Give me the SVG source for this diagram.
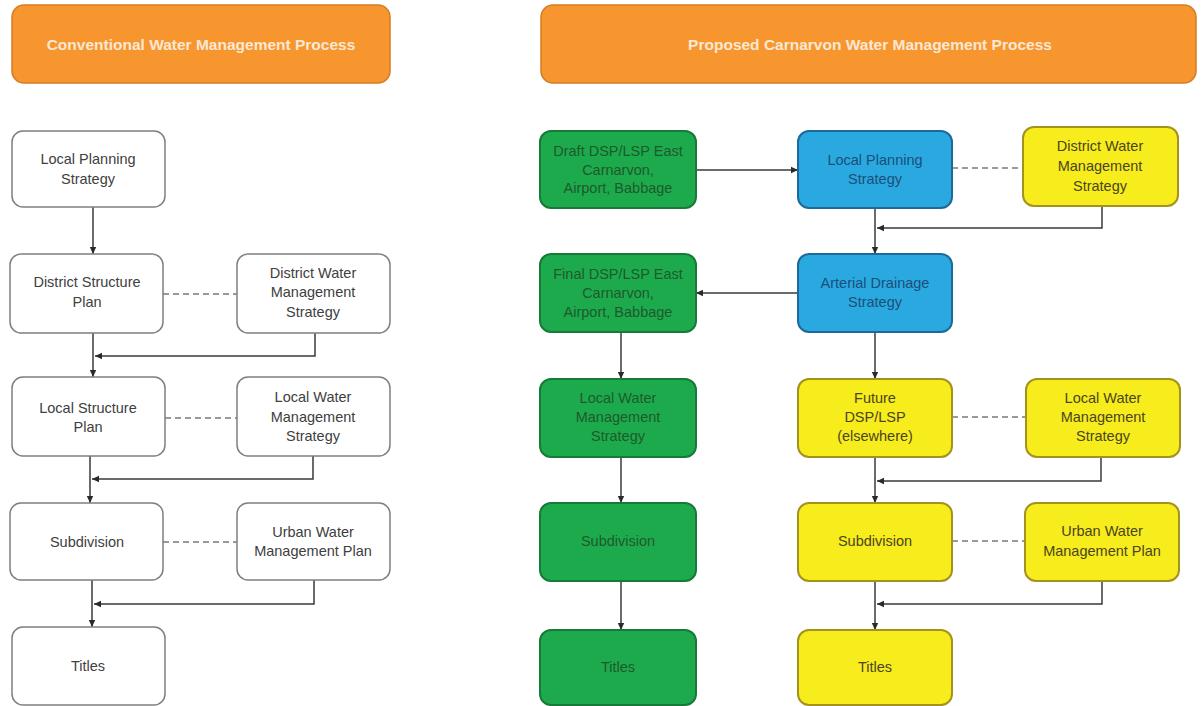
<svg xmlns="http://www.w3.org/2000/svg" width="1202" height="706" viewBox="0 0 1202 706">
<style>
  text { font-family: "Liberation Sans", Arial, sans-serif; font-size: 14.5px; text-anchor: middle; dominant-baseline: middle; }
  .hdr rect { fill: #F7962F; stroke: #D47C22; stroke-width: 1.5; }
  .hdr text { fill: #FCE8D4; font-weight: bold; font-size: 15.5px; }
  .w rect { fill: #FFFFFF; stroke: #7F7F7F; stroke-width: 1.5; }
  .w text { fill: #404040; }
  .g rect { fill: #1DAA4D; stroke: #187A38; stroke-width: 2; }
  .g text { fill: #1D5A2B; }
  .b rect { fill: #2AA9E1; stroke: #1C6A99; stroke-width: 2; }
  .b text { fill: #1B4F7A; }
  .y rect { fill: #F7EC1C; stroke: #A3921E; stroke-width: 2; }
  .y text { fill: #4A4520; }
  .c { fill: none; stroke: #3A3A3A; stroke-width: 1.5; }
  .a { marker-end: url(#arr); }
  .d { fill: none; stroke: #9A9A9A; stroke-width: 2; stroke-dasharray: 6 4; }
</style>
<defs>
  <marker id="arr" markerUnits="userSpaceOnUse" markerWidth="8" markerHeight="8" refX="7" refY="4" orient="auto">
    <path d="M0,0.8 L7,4 L0,7.2 Z" fill="#2A2A2A"/>
  </marker>
</defs>
<rect width="1202" height="706" fill="#FFFFFF"/>

<g id="header-left" class="hdr"><rect x="12" y="5" width="378" height="78" rx="12"/><text x="201" y="46">Conventional Water Management Process</text></g>
<g id="header-right" class="hdr"><rect x="541" y="5" width="655" height="78" rx="12"/><text x="870" y="46">Proposed Carnarvon Water Management Process</text></g>

<g id="connectors">
  <!-- left column -->
  <path class="c a" d="M93,207 V254"/>
  <path class="d" d="M163,294 H237"/>
  <path class="c a" d="M315,333 V356 H95"/>
  <path class="c a" d="M93,333 V377"/>
  <path class="d" d="M165,418 H237"/>
  <path class="c a" d="M313,456 V479 H92"/>
  <path class="c a" d="M90,456 V503"/>
  <path class="d" d="M163,542 H237"/>
  <path class="c a" d="M314,580 V604 H94"/>
  <path class="c a" d="M92,580 V627"/>
  <!-- right side -->
  <path class="c a" d="M696,170 H798"/>
  <path class="d" d="M952,168 H1023"/>
  <path class="c a" d="M1102,206 V228 H877"/>
  <path class="c a" d="M875,208 V254"/>
  <path class="c a" d="M798,293 H696"/>
  <path class="c a" d="M621,332 V379"/>
  <path class="c a" d="M875,332 V379"/>
  <path class="d" d="M952,417 H1026"/>
  <path class="c a" d="M1101,457 V481 H877"/>
  <path class="c a" d="M875,457 V503"/>
  <path class="c a" d="M621,457 V503"/>
  <path class="d" d="M952,541 H1025"/>
  <path class="c a" d="M1102,581 V604 H877"/>
  <path class="c a" d="M875,581 V630"/>
  <path class="c a" d="M621,581 V630"/>
</g>

<!-- left column nodes -->
<g id="l-lps" class="w"><rect x="12" y="131" width="153" height="76" rx="11"/><text x="88" y="160">Local Planning</text><text x="88" y="180">Strategy</text></g>
<g id="l-dsp" class="w"><rect x="10" y="254" width="153" height="79" rx="11"/><text x="87" y="283">District Structure</text><text x="87" y="303">Plan</text></g>
<g id="l-dwms" class="w"><rect x="237" y="254" width="153" height="79" rx="11"/><text x="313" y="274">District Water</text><text x="313" y="293">Management</text><text x="313" y="313">Strategy</text></g>
<g id="l-lsp" class="w"><rect x="12" y="377" width="153" height="79" rx="11"/><text x="88" y="409">Local Structure</text><text x="88" y="428">Plan</text></g>
<g id="l-lwms" class="w"><rect x="237" y="377" width="153" height="79" rx="11"/><text x="313" y="398">Local Water</text><text x="313" y="418">Management</text><text x="313" y="437">Strategy</text></g>
<g id="l-sub" class="w"><rect x="10" y="503" width="153" height="77" rx="11"/><text x="87" y="543">Subdivision</text></g>
<g id="l-uwmp" class="w"><rect x="237" y="503" width="153" height="77" rx="11"/><text x="313" y="533">Urban Water</text><text x="313" y="552">Management Plan</text></g>
<g id="l-titles" class="w"><rect x="12" y="627" width="153" height="78" rx="11"/><text x="88" y="667">Titles</text></g>

<!-- right side nodes -->
<g id="r-draft" class="g"><rect x="540" y="131" width="156" height="77" rx="11"/><text x="618" y="152">Draft DSP/LSP East</text><text x="618" y="171">Carnarvon,</text><text x="618" y="189">Airport, Babbage</text></g>
<g id="r-lps" class="b"><rect x="798" y="131" width="154" height="77" rx="11"/><text x="875" y="161">Local Planning</text><text x="875" y="180">Strategy</text></g>
<g id="r-dwms" class="y"><rect x="1023" y="127" width="155" height="79" rx="11"/><text x="1100" y="147">District Water</text><text x="1100" y="167">Management</text><text x="1100" y="187">Strategy</text></g>
<g id="r-final" class="g"><rect x="540" y="254" width="156" height="78" rx="11"/><text x="618" y="275">Final DSP/LSP East</text><text x="618" y="294">Carnarvon,</text><text x="618" y="313">Airport, Babbage</text></g>
<g id="r-ads" class="b"><rect x="798" y="254" width="154" height="78" rx="11"/><text x="875" y="284">Arterial Drainage</text><text x="875" y="303">Strategy</text></g>
<g id="r-glwms" class="g"><rect x="540" y="379" width="156" height="78" rx="11"/><text x="618" y="399">Local Water</text><text x="618" y="418">Management</text><text x="618" y="437">Strategy</text></g>
<g id="r-future" class="y"><rect x="798" y="379" width="154" height="78" rx="11"/><text x="875" y="399">Future</text><text x="875" y="418">DSP/LSP</text><text x="875" y="437">(elsewhere)</text></g>
<g id="r-ylwms" class="y"><rect x="1026" y="379" width="154" height="78" rx="11"/><text x="1103" y="399">Local Water</text><text x="1103" y="418">Management</text><text x="1103" y="437">Strategy</text></g>
<g id="r-gsub" class="g"><rect x="540" y="503" width="156" height="78" rx="11"/><text x="618" y="542">Subdivision</text></g>
<g id="r-ysub" class="y"><rect x="798" y="503" width="154" height="78" rx="11"/><text x="875" y="542">Subdivision</text></g>
<g id="r-uwmp" class="y"><rect x="1025" y="503" width="154" height="78" rx="11"/><text x="1102" y="532">Urban Water</text><text x="1102" y="552">Management Plan</text></g>
<g id="r-gtitles" class="g"><rect x="540" y="630" width="156" height="75" rx="11"/><text x="618" y="668">Titles</text></g>
<g id="r-ytitles" class="y"><rect x="798" y="630" width="154" height="75" rx="11"/><text x="875" y="668">Titles</text></g>
</svg>
